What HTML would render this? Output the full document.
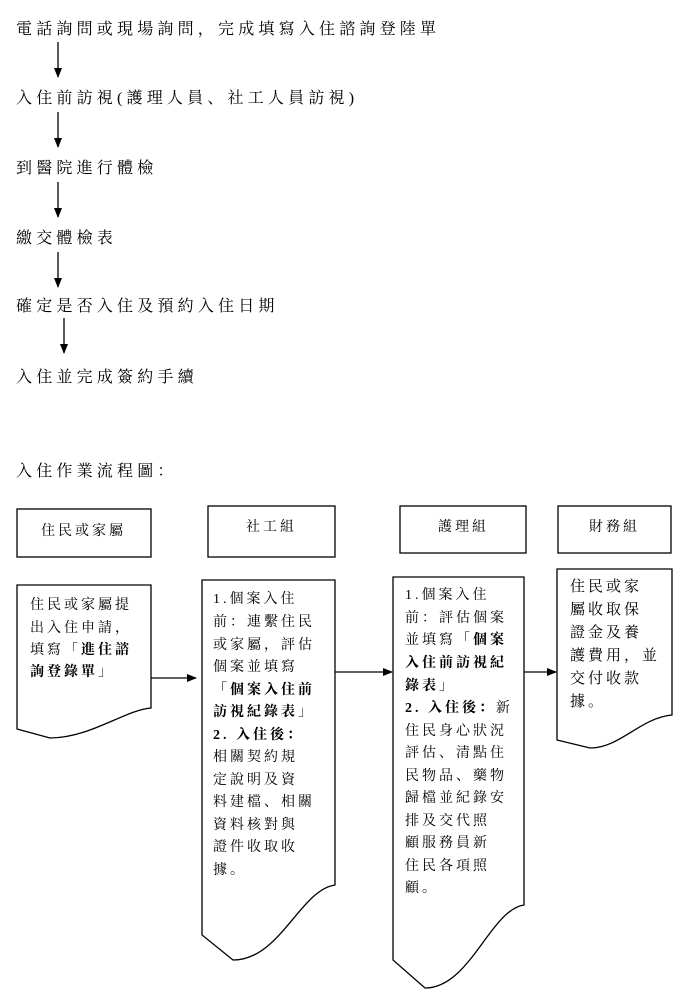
<!DOCTYPE html>
<html><head><meta charset="utf-8"><style>
html,body{margin:0;padding:0;background:#fff;width:684px;height:997px;overflow:hidden}
svg text{font-family:"Liberation Serif","Noto Serif CJK SC",serif;fill:#000}
.t{font-size:16px;letter-spacing:4.2px}
.b{font-size:14px;letter-spacing:3px}
.d{font-size:15px;letter-spacing:3px}
.bo{font-weight:bold}
</style></head><body>
<svg width="684" height="997" viewBox="0 0 684 997" xmlns="http://www.w3.org/2000/svg">
<defs><marker id="ah" markerWidth="10" markerHeight="8" refX="9" refY="4" orient="auto" markerUnits="userSpaceOnUse"><path d="M0,0 L10,4 L0,8 Z" fill="#000"/></marker></defs>
<g class="t">
<text x="16" y="34">電話詢問或現場詢問，完成填寫入住諮詢登陸單</text>
<text x="16" y="103">入住前訪視(護理人員、社工人員訪視)</text>
<text x="16" y="173">到醫院進行體檢</text>
<text x="16" y="243">繳交體檢表</text>
<text x="16" y="311">確定是否入住及預約入住日期</text>
<text x="16" y="382">入住並完成簽約手續</text>
<text x="16" y="476">入住作業流程圖：</text>
</g>
<g stroke="#000" stroke-width="1.3" fill="none">
<line x1="58" y1="42" x2="58" y2="77" marker-end="url(#ah)"/>
<line x1="58" y1="112" x2="58" y2="147" marker-end="url(#ah)"/>
<line x1="58" y1="182" x2="58" y2="217" marker-end="url(#ah)"/>
<line x1="58" y1="252" x2="58" y2="287" marker-end="url(#ah)"/>
<line x1="64" y1="318" x2="64" y2="353" marker-end="url(#ah)"/>
<rect x="17" y="509" width="134" height="48"/>
<rect x="208" y="506" width="127" height="51"/>
<rect x="400" y="506" width="126" height="47"/>
<rect x="558" y="506" width="113" height="47"/>
<path d="M17,585 H151 V708 C125,710 90,738 50,738 L17,729 Z"/>
<path d="M202,580 H335 V885 C300,890 280,960 233,960 L202,935 Z"/>
<path d="M393,577 H524 V905 C490,910 470,988 425,988 L393,960 Z"/>
<path d="M557,569 H672 V715 C640,718 620,748 590,748 L557,740 Z"/>
<line x1="151" y1="678" x2="196" y2="678" marker-end="url(#ah)"/>
<line x1="335" y1="672" x2="392" y2="672" marker-end="url(#ah)"/>
<line x1="524" y1="672" x2="556" y2="672" marker-end="url(#ah)"/>
</g>
<g class="b">
<text x="41" y="535">住民或家屬</text>
<text x="246" y="531">社工組</text>
<text x="438" y="531">護理組</text>
<text x="589" y="531">財務組</text>
</g>
<g class="b">
<text x="30" y="609">住民或家屬提</text>
<text x="30" y="632">出入住申請，</text>
<text x="30" y="654">填寫「<tspan class="bo">進住諮</tspan></text>
<text x="30" y="676"><tspan class="bo">詢登錄單</tspan>」</text>
</g>
<g class="b">
<text x="213" y="603">1.個案入住</text>
<text x="213" y="626">前：連繫住民</text>
<text x="213" y="649">或家屬，評估</text>
<text x="213" y="671">個案並填寫</text>
<text x="213" y="694" class="bo">「個案入住前</text>
<text x="213" y="716"><tspan class="bo">訪視紀錄表</tspan>」</text>
<text x="213" y="739" class="bo">2. 入住後：</text>
<text x="213" y="761">相關契約規</text>
<text x="213" y="784">定說明及資</text>
<text x="213" y="806">料建檔、相關</text>
<text x="213" y="829">資料核對與</text>
<text x="213" y="851">證件收取收</text>
<text x="213" y="874">據。</text>
</g>
<g class="b">
<text x="405" y="599">1.個案入住</text>
<text x="405" y="622">前：評估個案</text>
<text x="405" y="644">並填寫<tspan class="bo">「個案</tspan></text>
<text x="405" y="667" class="bo">入住前訪視紀</text>
<text x="405" y="690"><tspan class="bo">錄表</tspan>」</text>
<text x="405" y="712"><tspan class="bo">2. 入住後：</tspan>新</text>
<text x="405" y="735">住民身心狀況</text>
<text x="405" y="757">評估、清點住</text>
<text x="405" y="780">民物品、藥物</text>
<text x="405" y="802">歸檔並紀錄安</text>
<text x="405" y="825">排及交代照</text>
<text x="405" y="847">顧服務員新</text>
<text x="405" y="870">住民各項照</text>
<text x="405" y="892">顧。</text>
</g>
<g class="d">
<text x="570" y="591">住民或家</text>
<text x="570" y="614">屬收取保</text>
<text x="570" y="637">證金及養</text>
<text x="570" y="660">護費用，並</text>
<text x="570" y="683">交付收款</text>
<text x="570" y="706">據。</text>
</g>
</svg>
</body></html>
